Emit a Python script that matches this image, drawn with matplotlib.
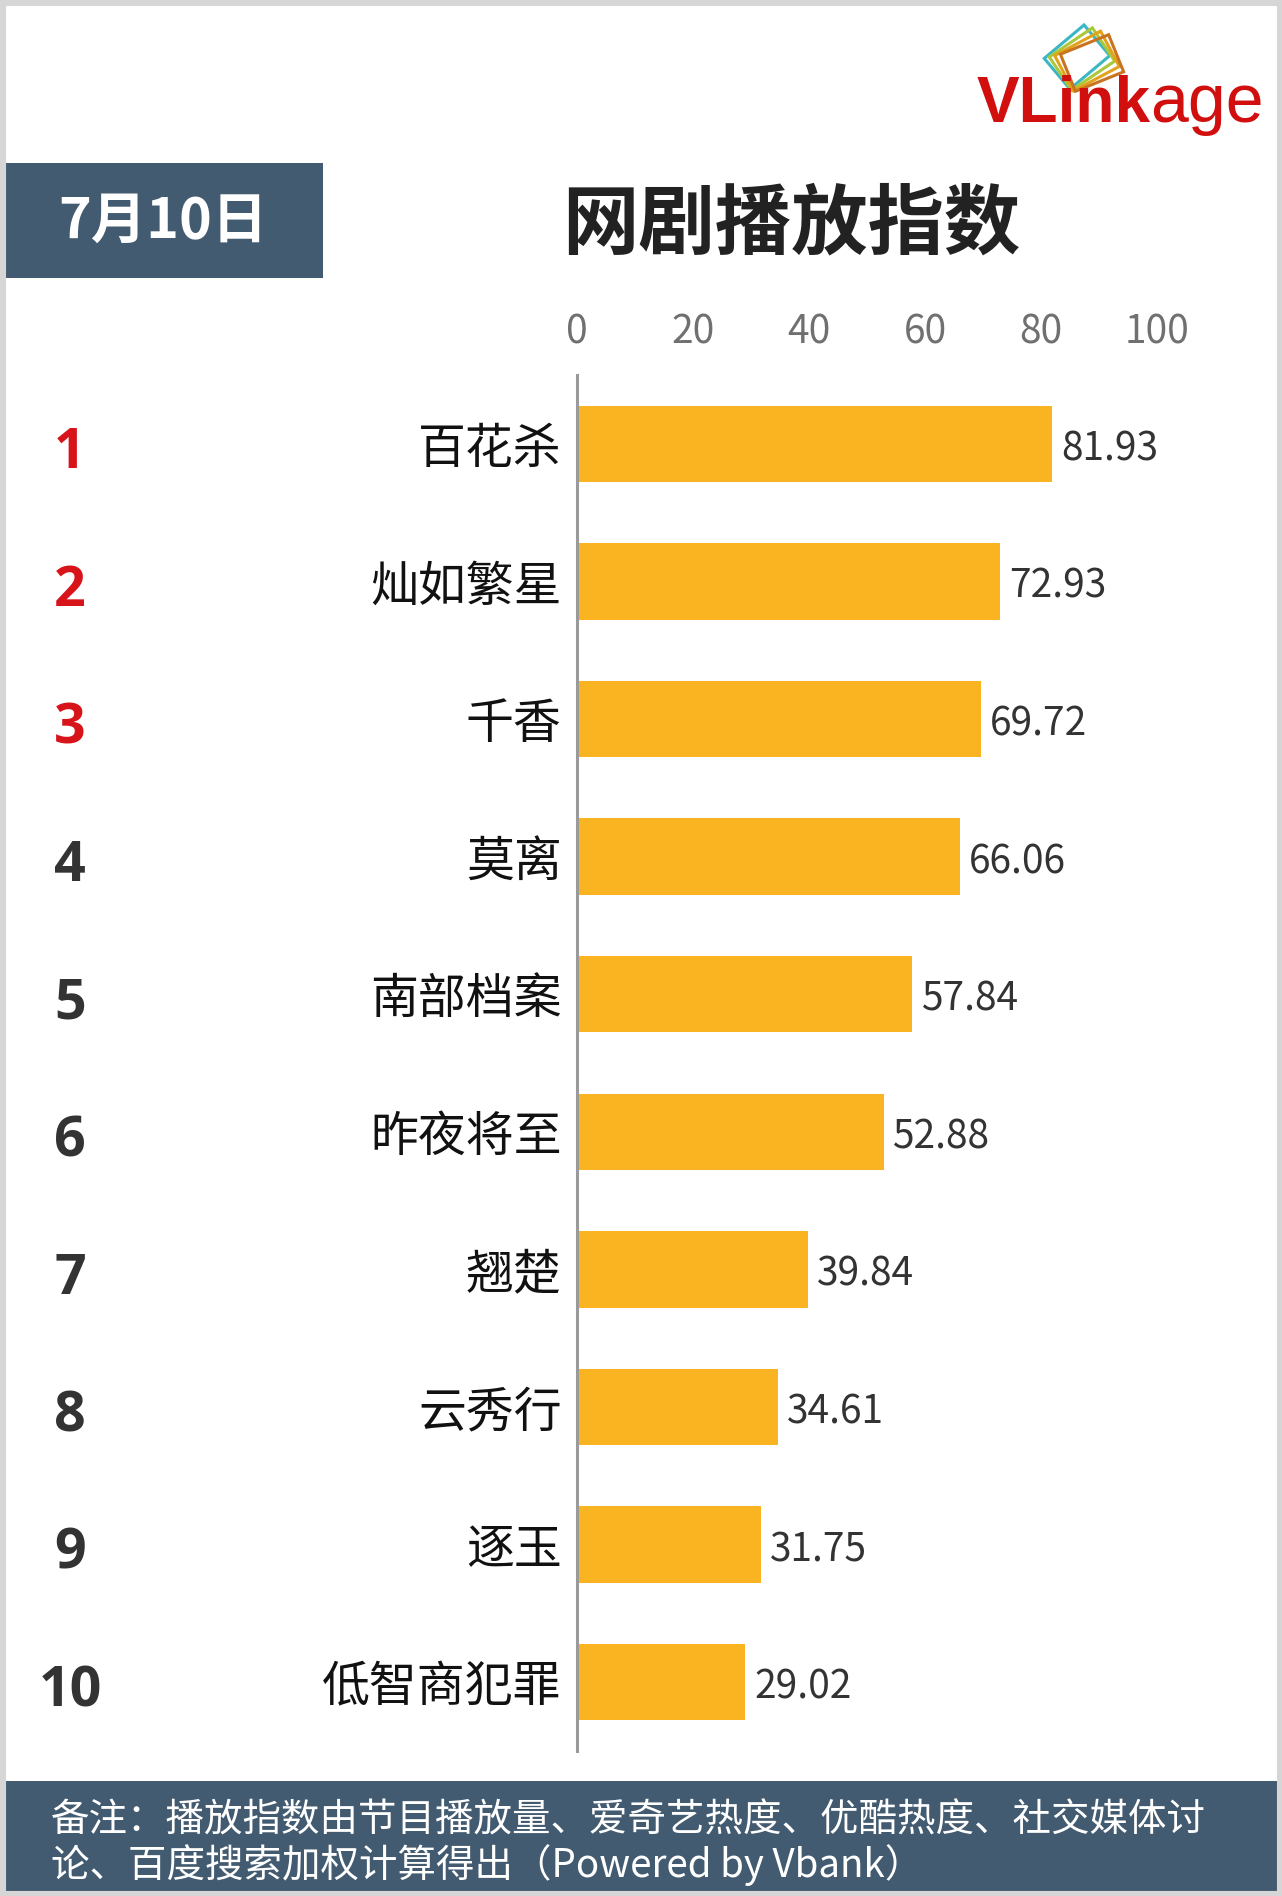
import matplotlib
matplotlib.use("Agg")
import matplotlib.pyplot as plt
from matplotlib.patches import Rectangle, Polygon
import matplotlib.transforms as mtransforms
import numpy as np

plt.rcParams['font.family'] = ['Noto Sans CJK SC', 'DejaVu Sans']

# ---------------- data ----------------
ranks = ["1", "2", "3", "4", "5", "6", "7", "8", "9", "10"]
shows = ["百花杀", "灿如繁星", "千香", "莫离", "南部档案", "昨夜将至", "翘楚", "云秀行", "逐玉", "低智商犯罪"]
values = [81.93, 72.93, 69.72, 66.06, 57.84, 52.88, 39.84, 34.61, 31.75, 29.02]
x_ticks = [0, 20, 40, 60, 80, 100]
date_label = "7月10日"
title = "网剧播放指数"
note_line1 = "备注：播放指数由节目播放量、爱奇艺热度、优酷热度、社交媒体讨"
note_line2 = "论、百度搜索加权计算得出（Powered by Vbank）"

W, H = 1282, 1896
fig = plt.figure(figsize=(W / 100, H / 100), dpi=100)
fig.patch.set_facecolor("white")

def fx(x):
    return x / W

def fy(y):
    return 1 - y / H

SLATE = "#435b71"
BAR = "#fbb421"
RED = "#d7141a"
DARK = "#333333"

# border frame
fig.add_artist(Rectangle((0, 0), 1, 1, transform=fig.transFigure, fill=False,
                         edgecolor="#d6d6d6", linewidth=8, zorder=10))

# header date box
fig.add_artist(Rectangle((fx(4), fy(278)), fx(323) - fx(4), fy(163) - fy(278),
                         transform=fig.transFigure, facecolor=SLATE, edgecolor="none"))
fig.text(fx(163), fy(222), date_label, color="white", fontsize=40, fontweight="bold",
         ha="center", va="center")

# title
fig.text(fx(791), fy(225), title, color="#222222", fontsize=55, fontweight="bold",
         ha="center", va="center")

# logo
fig.text(fx(977), fy(122), "VLink", color="#d10f0f", fontsize=46, fontweight="bold",
         family="Liberation Sans", ha="left", va="baseline")
fig.text(fx(1150), fy(122), "age", color="#d10f0f", fontsize=49,
         family="Liberation Sans", ha="left", va="baseline")
# logo icon: stacked rotated rectangles
icon_ax = fig.add_axes([fx(1035), fy(105), fx(1135) - fx(1035), fy(20) - fy(105)])
icon_ax.set_xlim(0, 100)
icon_ax.set_ylim(0, 85)
icon_ax.axis("off")
icon_cols = ["#3bb6c4", "#a9c83a", "#e3a21c", "#c9731f"]
for k, c in enumerate(icon_cols):
    cx, cy = 42 + k * 5, 48 - k * 2
    w, h = 52, 40
    ang = np.deg2rad(40 - k * 6)
    pts = np.array([[-w / 2, -h / 2], [w / 2, -h / 2], [w / 2, h / 2], [-w / 2, h / 2]])
    R = np.array([[np.cos(ang), -np.sin(ang)], [np.sin(ang), np.cos(ang)]])
    pts = pts @ R.T + [cx, cy]
    icon_ax.add_patch(Polygon(pts, closed=True, fill=False, edgecolor=c, linewidth=2.2))

# main bar axes
x0, x100 = 577, 1157
ytop, ybot = 375, 1751
ax = fig.add_axes([fx(x0), fy(ybot), fx(x100) - fx(x0), fy(ytop) - fy(ybot)])
ypos = np.arange(len(shows))
ax.barh(ypos, values, height=0.555, color=BAR, zorder=2)
ax.set_xlim(0, 100)
ax.set_ylim(len(shows) - 0.5, -0.5)
for s in ["top", "right", "bottom"]:
    ax.spines[s].set_visible(False)
ax.spines["left"].set_color("#9a9a9a")
ax.spines["left"].set_linewidth(2.2)
ax.xaxis.tick_top()
ax.set_xticks(x_ticks)
ax.set_xticklabels([str(t) for t in x_ticks])
ax.tick_params(axis="x", length=0, pad=16, labelsize=28, labelcolor="#707070")
ax.set_yticks(ypos)
ax.set_yticklabels(shows)
ax.tick_params(axis="y", length=0, pad=11, labelsize=34.5, labelcolor="#111111")
ax.patch.set_alpha(0)

val_off = mtransforms.ScaledTranslation(0, -4 / 72, fig.dpi_scale_trans)
for i, v in enumerate(values):
    ax.text(v + 1.5, i, f"{v:.2f}", fontsize=28, color=DARK, ha="left", va="center",
            transform=ax.transData + val_off)

# rank numbers
trans = mtransforms.blended_transform_factory(fig.transFigure, ax.transData)
rank_off = mtransforms.ScaledTranslation(0, -7 / 72, fig.dpi_scale_trans)
for i, r in enumerate(ranks):
    col = RED if i < 3 else DARK
    ax.text(fx(70), i, r, transform=trans + rank_off, fontsize=40, fontweight="bold", color=col,
            ha="center", va="center", family=["Open Sans", "DejaVu Sans"])

# footer
fig.add_artist(Rectangle((fx(4), 0), 1, fy(1781), transform=fig.transFigure,
                         facecolor=SLATE, edgecolor="none"))
fig.text(fx(51), fy(1821), note_line1, color="white", fontsize=27.7, ha="left", va="center")
fig.text(fx(51), fy(1865), note_line2, color="white", fontsize=27.7, ha="left", va="center")

fig.savefig("out.png", dpi=100)
